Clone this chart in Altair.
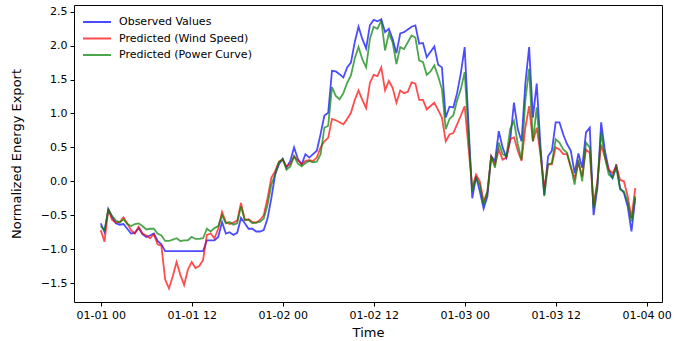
import altair as alt
import pandas as pd

# Half-hourly series, starting 2023-01-01 00:00 UTC
observed = [
    -0.62, -0.75, -0.41, -0.53, -0.62, -0.64, -0.63, -0.70, -0.77, -0.76, -0.69, -0.78,
    -0.82, -0.80, -0.77, -0.88, -0.93, -1.03, -1.03, -1.03, -1.03, -1.03, -1.03, -1.03,
    -1.03, -1.03, -1.03, -1.03, -0.87, -0.87, -0.87, -0.82, -0.60, -0.77, -0.75, -0.79,
    -0.76, -0.54, -0.62, -0.70, -0.70, -0.74, -0.74, -0.72, -0.55, -0.25, 0.10, 0.25,
    0.33, 0.20, 0.30, 0.50, 0.33, 0.25, 0.40, 0.35, 0.40, 0.45, 0.70, 0.97,
    1.01, 1.63, 1.62, 1.58, 1.53, 1.68, 1.75, 2.05, 2.28, 2.10, 1.96, 2.30,
    2.38, 2.36, 2.39, 2.20, 2.25, 2.10, 1.89, 2.18, 2.20, 2.24, 2.28, 2.30,
    2.03, 2.04, 1.83, 1.91, 1.99, 1.72, 1.68, 0.94, 1.10, 1.09, 1.30, 1.60,
    1.98, 0.85, -0.25, 0.07, -0.15, -0.40, -0.22, 0.37, 0.30, 0.74, 0.50, 0.35,
    0.60, 1.16, 0.77, 0.59, 1.44, 1.98, 0.94, 1.44, 0.52, -0.20, 0.37, 0.45,
    0.87, 0.87, 0.69, 0.55, 0.45, 0.12, 0.41, 0.20, 0.72, 0.79, -0.50, -0.10,
    0.87, 0.45, 0.17, 0.05, 0.25, -0.10, -0.17, -0.37, -0.74, -0.25,
]
wind_speed = [
    -0.72, -0.89, -0.41, -0.57, -0.61, -0.60, -0.53, -0.62, -0.72, -0.77, -0.67, -0.77,
    -0.80, -0.84, -0.78, -0.93, -0.95, -1.45, -1.58, -1.40, -1.19, -1.38, -1.53, -1.30,
    -1.19, -1.28, -1.25, -1.16, -0.79, -0.77, -0.84, -0.70, -0.45, -0.60, -0.63, -0.61,
    -0.58, -0.32, -0.57, -0.56, -0.60, -0.61, -0.57, -0.50, -0.25, 0.05, 0.15, 0.29,
    0.32, 0.22, 0.25, 0.37, 0.31, 0.25, 0.30, 0.31, 0.30, 0.35, 0.50, 0.59,
    0.64, 0.92, 0.90, 0.87, 0.84, 0.92, 1.01, 1.20, 1.34, 1.20, 1.08, 1.45,
    1.57, 1.55, 1.68, 1.34, 1.48, 1.38, 1.16, 1.34, 1.30, 1.32, 1.46, 1.44,
    1.20, 1.20, 1.06, 1.11, 1.16, 1.05, 0.94, 0.59, 0.69, 0.71, 0.84, 0.97,
    1.11, 0.50, -0.10, 0.10, 0.00, -0.30, -0.15, 0.37, 0.25, 0.47, 0.32, 0.35,
    0.62, 0.65, 0.45, 0.30, 0.79, 1.11, 0.59, 0.79, 0.40, -0.10, 0.25, 0.25,
    0.50, 0.47, 0.40, 0.40, 0.20, 0.05, 0.27, 0.07, 0.47, 0.42, -0.35, 0.00,
    0.54, 0.35, 0.17, 0.12, 0.22, 0.02, 0.00, -0.22, -0.54, -0.10,
]
power_curve = [
    -0.66, -0.72, -0.42, -0.51, -0.58, -0.61, -0.56, -0.63, -0.66, -0.63, -0.62, -0.66,
    -0.71, -0.70, -0.70, -0.77, -0.80, -0.88, -0.88, -0.86, -0.84, -0.88, -0.87, -0.87,
    -0.82, -0.85, -0.85, -0.84, -0.70, -0.74, -0.69, -0.66, -0.50, -0.62, -0.60, -0.64,
    -0.62, -0.37, -0.57, -0.57, -0.62, -0.61, -0.60, -0.55, -0.35, -0.05, 0.10, 0.28,
    0.33, 0.17, 0.22, 0.37, 0.26, 0.22, 0.27, 0.30, 0.28, 0.29, 0.40, 0.79,
    0.82, 1.39, 1.26, 1.21, 1.30, 1.45, 1.56, 1.81, 1.98, 1.80, 1.68, 2.10,
    2.28, 2.25, 2.37, 1.93, 2.18, 2.05, 1.73, 1.98, 1.95, 2.05, 2.15, 2.12,
    1.78, 1.76, 1.57, 1.62, 1.71, 1.55, 1.36, 0.77, 0.92, 0.97, 1.19, 1.36,
    1.61, 0.70, -0.15, 0.05, -0.05, -0.35, -0.15, 0.37, 0.20, 0.57, 0.40, 0.37,
    0.77, 0.89, 0.55, 0.32, 1.19, 1.66, 0.59, 1.09, 0.42, -0.22, 0.25, 0.27,
    0.62, 0.57, 0.47, 0.42, 0.22, -0.05, 0.32, 0.00, 0.57, 0.50, -0.40, -0.05,
    0.72, 0.35, 0.10, 0.05, 0.20, -0.12, -0.15, -0.30, -0.59, -0.22,
]

series_names = ["Observed Values", "Predicted (Wind Speed)", "Predicted (Power Curve)"]
series_colors = ["#0000ff", "#ff0000", "#008000"]
y_ticks = [-1.5, -1.0, -0.5, 0.0, 0.5, 1.0, 1.5, 2.0, 2.5]

start = pd.Timestamp("2023-01-01T00:00:00Z")
times = pd.date_range(start, periods=len(observed), freq="30min")
stamps = [t.strftime("%Y-%m-%dT%H:%M:%SZ") for t in times]

rows = []
for name, values in zip(series_names, [observed, wind_speed, power_curve]):
    for ts, v in zip(stamps, values):
        rows.append({"time": ts, "value": v, "series": name})
df = pd.DataFrame(rows)


def ms(ts):
    return int(ts.value // 1_000_000)


span = times[-1] - times[0]
x_domain = [ms(times[0] - span * 0.05), ms(times[-1] + span * 0.05)]
x_ticks = [ms(start + pd.Timedelta(hours=12 * k)) for k in range(7)]

color = alt.Color(
    "series:N",
    scale=alt.Scale(domain=series_names, range=series_colors),
    legend=alt.Legend(
        title=None,
        orient="none",
        legendX=8,
        legendY=9,
        symbolType="stroke",
        symbolSize=784,
        symbolStrokeWidth=2,
        symbolOpacity=0.7,
        labelFontSize=11,
        labelFont="DejaVu Sans",
        labelColor="#000000",
        clipHeight=16,
        rowPadding=0.5,
        labelOffset=7,
        padding=0,
    ),
)

x_enc = alt.X(
    "time:T",
    scale=alt.Scale(type="utc", domain=x_domain),
    axis=alt.Axis(
        values=x_ticks,
        format="%m-%d %H",
        title="Time",
        grid=False,
        domain=False,
        tickSize=4,
        tickColor="#000000",
        labelPadding=3,
        labelFontSize=11,
        labelFont="DejaVu Sans",
        labelColor="#000000",
        titleFontSize=13,
        titleFont="DejaVu Sans",
        titleFontWeight="normal",
        titleColor="#000000",
        titlePadding=6,
    ),
)
y_enc = alt.Y(
    "value:Q",
    scale=alt.Scale(domain=[-1.78, 2.6], nice=False, zero=False),
    axis=alt.Axis(
        values=y_ticks,
        format=".1f",
        title="Normalized Energy Export",
        grid=False,
        domain=False,
        tickSize=4,
        tickColor="#000000",
        labelPadding=3,
        labelFontSize=11,
        labelFont="DejaVu Sans",
        labelColor="#000000",
        titleFontSize=13,
        titleFont="DejaVu Sans",
        titleFontWeight="normal",
        titleColor="#000000",
        titlePadding=17,
    ),
)

layers = []
for name in series_names:
    layers.append(
        alt.Chart(df)
        .transform_filter(alt.datum.series == name)
        .mark_line(strokeWidth=1.8, opacity=0.7)
        .encode(x=x_enc, y=y_enc, color=color)
    )

chart = (
    alt.layer(*layers)
    .properties(
        width=588,
        height=297,
        autosize=alt.AutoSizeParams(type="none"),
        padding={"left": 74, "top": 5, "right": 21, "bottom": 39},
        background="#ffffff",
    )
    .configure_view(stroke="#000000", strokeWidth=1)
)

chart.save("out.html", embed_options={"renderer": "svg", "actions": False})
